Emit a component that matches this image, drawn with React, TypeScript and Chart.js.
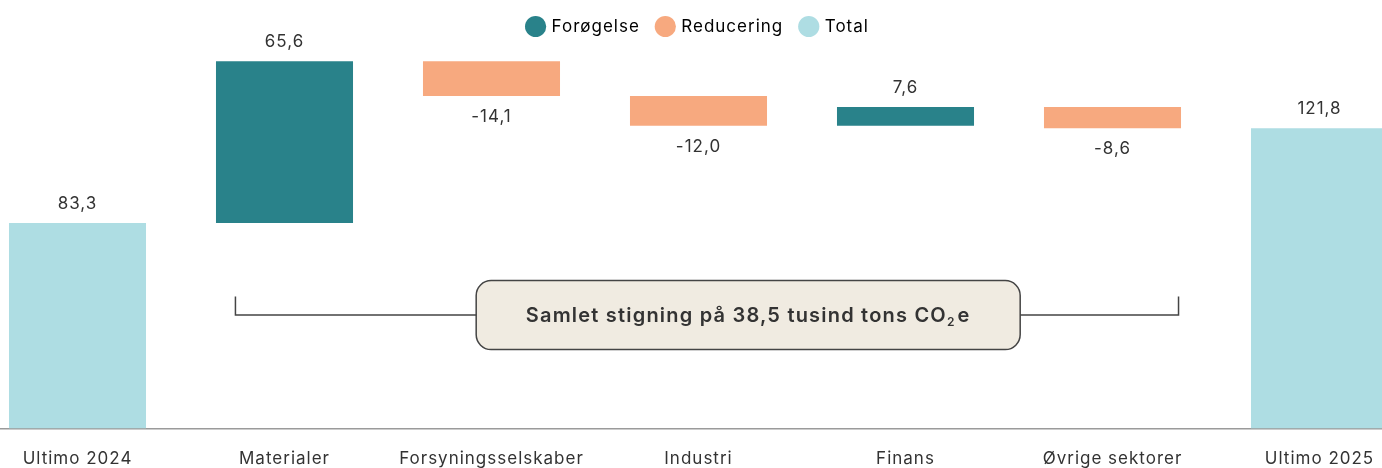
import React, { useEffect, useRef } from "react";
import { Chart, registerables } from "chart.js";

Chart.register(...registerables);

const categories = [
  "Ultimo 2024",
  "Materialer",
  "Forsyningsselskaber",
  "Industri",
  "Finans",
  "Øvrige sektorer",
  "Ultimo 2025",
];
const changes = [83.3, 65.6, -14.1, -12.0, 7.6, -8.6, 121.8];
const kinds = ["total", "inc", "dec", "dec", "inc", "dec", "total"];
const legendLabels = ["Forøgelse", "Reducering", "Total"];
const annotationText = "Samlet stigning på 38,5 tusind tons CO";

const COLORS: Record<string, string> = {
  inc: "#29828a",
  dec: "#f7a97f",
  total: "#aedde3",
};
const FONT = "Inter, 'DejaVu Sans', sans-serif";
const TEXT = "#333333";
const SPACING = "1px";

function buildRanges(): [number, number][] {
  let level = 0;
  return changes.map((v, i) => {
    if (kinds[i] === "total") {
      level = v;
      return [0, v];
    }
    const start = level;
    level = level + v;
    return [start, level];
  });
}

const fmt = (v: number) => v.toFixed(1).replace(".", ",");

const spacingPlugin = {
  id: "letterSpacing",
  beforeInit(chart: any) {
    chart.ctx.letterSpacing = SPACING;
  },
  beforeUpdate(chart: any) {
    chart.ctx.letterSpacing = SPACING;
  },
  beforeLayout(chart: any) {
    chart.ctx.letterSpacing = SPACING;
  },
  beforeDraw(chart: any) {
    chart.ctx.letterSpacing = SPACING;
  },
};

const valueLabelPlugin = {
  id: "valueLabels",
  afterDatasetsDraw(chart: any) {
    const ctx = chart.ctx;
    const meta = chart.getDatasetMeta(0);
    const y = chart.scales.y;
    const ranges = chart.data.datasets[0].data as [number, number][];
    ctx.save();
    ctx.font = `17px ${FONT}`;
    ctx.fillStyle = TEXT;
    ctx.textAlign = "center";
    ctx.textBaseline = "middle";
    meta.data.forEach((bar: any, i: number) => {
      const [a, b] = ranges[i];
      const v = changes[i];
      if (v >= 0) {
        const top = y.getPixelForValue(Math.max(a, b));
        ctx.fillText(fmt(v), bar.x, top - 19);
      } else {
        const bottom = y.getPixelForValue(Math.min(a, b));
        ctx.fillText(fmt(v), bar.x, bottom + 21);
      }
    });
    ctx.restore();
  },
};

const annotationPlugin = {
  id: "bracketAnnotation",
  afterDatasetsDraw(chart: any) {
    const ctx = chart.ctx;
    const x = chart.scales.x;
    const y = chart.scales.y;
    const w = x.getPixelForValue(1) - x.getPixelForValue(0);
    const left = x.getPixelForValue(1) - 0.237 * w;
    const right = x.getPixelForValue(5) + 0.319 * w;
    const lineY = y.getPixelForValue(46);
    const tickTop = y.getPixelForValue(53.6);
    const boxCx = x.getPixelForValue(3) + 0.24 * w;
    const boxW = 544;
    const boxH = 69;
    const boxX = boxCx - boxW / 2;
    const boxY = lineY - boxH / 2;

    ctx.save();
    ctx.strokeStyle = "#444444";
    ctx.lineWidth = 1.5;
    ctx.beginPath();
    ctx.moveTo(left, tickTop);
    ctx.lineTo(left, lineY);
    ctx.lineTo(right, lineY);
    ctx.lineTo(right, tickTop);
    ctx.stroke();

    ctx.beginPath();
    ctx.roundRect(boxX, boxY, boxW, boxH, 15);
    ctx.fillStyle = "#f0ebe1";
    ctx.fill();
    ctx.stroke();

    ctx.fillStyle = TEXT;
    ctx.textBaseline = "alphabetic";
    ctx.textAlign = "left";
    ctx.letterSpacing = "1.2px";
    const mainFont = `600 20px ${FONT}`;
    const subFont = `600 12px ${FONT}`;
    ctx.font = mainFont;
    const w1 = ctx.measureText(annotationText).width;
    const wE = ctx.measureText("e").width;
    ctx.font = subFont;
    const w2 = ctx.measureText("2").width + 2;
    const total = w1 + w2 + wE;
    const startX = boxCx - total / 2;
    const base = lineY + 7;
    ctx.font = mainFont;
    ctx.fillText(annotationText, startX, base);
    ctx.font = subFont;
    ctx.fillText("2", startX + w1, base + 4);
    ctx.font = mainFont;
    ctx.fillText("e", startX + w1 + w2, base);
    ctx.restore();
  },
};

export default function App() {
  const ref = useRef<HTMLCanvasElement | null>(null);

  useEffect(() => {
    document.body.style.margin = "0";
    if (!ref.current) return;
    const ranges = buildRanges();
    const chart = new Chart(ref.current, {
      type: "bar",
      data: {
        labels: categories,
        datasets: [
          {
            data: ranges as any,
            backgroundColor: kinds.map((k) => COLORS[k]),
            borderWidth: 0,
            barPercentage: 0.662,
            categoryPercentage: 1,
          },
        ],
      },
      options: {
        animation: false,
        responsive: false,
        devicePixelRatio: 1,
        layout: { padding: { top: 0, bottom: 0, left: 0, right: 0 } },
        plugins: {
          tooltip: { enabled: false },
          legend: {
            display: true,
            position: "top",
            labels: {
              usePointStyle: true,
              pointStyle: "circle",
              boxWidth: 15,
              boxHeight: 15,
              padding: 18,
              color: TEXT,
              font: { family: FONT, size: 17 },
              generateLabels: () =>
                legendLabels.map((t, i) => ({
                  text: t,
                  fillStyle: COLORS[["inc", "dec", "total"][i]],
                  strokeStyle: COLORS[["inc", "dec", "total"][i]],
                  lineWidth: 0,
                  pointStyle: "circle",
                  hidden: false,
                  datasetIndex: 0,
                })),
            },
            onClick: () => {},
          },
        },
        scales: {
          x: {
            grid: { display: false },
            border: { display: true, color: "#9a9a9a", width: 1.5 },
            ticks: {
              color: TEXT,
              font: { family: FONT, size: 17 },
              padding: 12,
              maxRotation: 0,
              autoSkip: false,
            },
          },
          y: {
            display: false,
            min: 0,
            max: 155.5,
          },
        },
      },
      plugins: [spacingPlugin, valueLabelPlugin, annotationPlugin],
    });
    return () => chart.destroy();
  }, []);

  return (
    <div
      style={{
        position: "fixed",
        left: 0,
        top: 0,
        width: 1382,
        height: 468,
        overflow: "hidden",
        background: "#ffffff",
      }}
    >
      <canvas
        ref={ref}
        width={1449}
        height={481}
        style={{ position: "absolute", left: -26, top: 0, width: 1449, height: 481 }}
      />
    </div>
  );
}
